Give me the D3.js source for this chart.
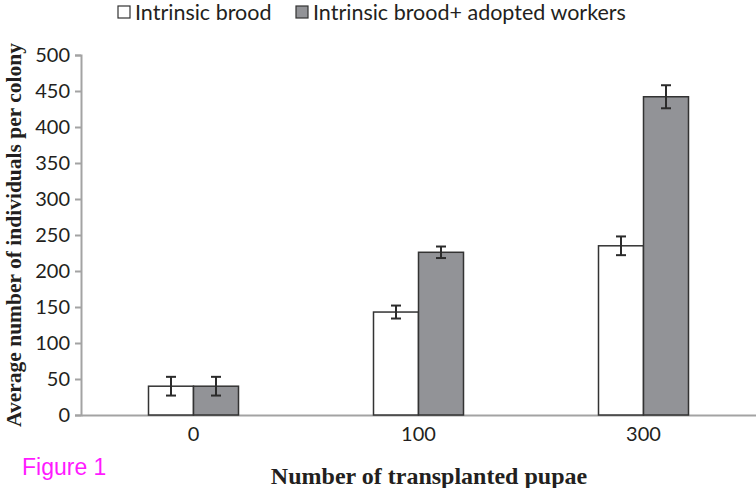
<!DOCTYPE html>
<html><head><meta charset="utf-8">
<script src="https://cdn.jsdelivr.net/npm/d3@7"></script>
<style>body{margin:0;background:#fff;} svg{display:block;}</style>
</head><body>
<svg id="chart" width="756" height="488"></svg>
<script>
const categories = ["0", "100", "300"];
const seriesNames = ["Intrinsic brood", "Intrinsic brood+ adopted workers"];
const intrinsic = [40, 143, 235];
const intrinsicErr = [13, 9, 13];
const adopted = [40, 226, 442];
const adoptedErr = [13, 8, 16];
const yTicks = [0, 50, 100, 150, 200, 250, 300, 350, 400, 450, 500];
const colors = ["#ffffff", "#929397"];

const svg = d3.select("#chart");
const x0 = 81, x1 = 756, yBase = 415, yTop = 55;
const x = d3.scaleBand().domain(categories).range([x0, x1]).paddingInner(0).paddingOuter(0);
const y = d3.scaleLinear().domain([0, 500]).range([yBase, yTop]);
const barW = 45;
const sans = "Lato, 'Open Sans', sans-serif";
const serif = "'Liberation Serif', 'DejaVu Serif', serif";

// y axis
const yAxis = svg.append("g").attr("transform", `translate(${x0},0)`)
  .call(d3.axisLeft(y).tickValues(yTicks).tickSize(6).tickPadding(5));
yAxis.select(".domain").attr("stroke", "#a3a3a3").attr("stroke-width", 2);
yAxis.selectAll(".tick line").attr("stroke", "#a3a3a3").attr("stroke-width", 2);
yAxis.selectAll(".tick text").attr("font-family", sans).attr("font-size", 20).attr("fill", "#231f20");

// x axis
const xAxis = svg.append("g").attr("transform", `translate(0,${yBase})`)
  .call(d3.axisBottom(x).tickSize(0).tickPadding(12));
xAxis.select(".domain").attr("stroke", "#a3a3a3").attr("stroke-width", 2);
xAxis.selectAll(".tick text").attr("font-family", sans).attr("font-size", 20).attr("fill", "#231f20");

const series = [
  {vals: intrinsic, errs: intrinsicErr, color: colors[0], off: -barW},
  {vals: adopted, errs: adoptedErr, color: colors[1], off: 0}
];
series.forEach(s => {
  const g = svg.append("g");
  categories.forEach((c, i) => {
    const cx = x(c) + x.bandwidth() / 2 + s.off;
    g.append("rect").attr("x", cx).attr("y", y(s.vals[i]))
      .attr("width", barW).attr("height", yBase - y(s.vals[i]))
      .attr("fill", s.color).attr("stroke", "#333").attr("stroke-width", 1.5);
  });
});
series.forEach(s => {
  const g = svg.append("g").attr("stroke", "#2b2b2b").attr("stroke-width", 2);
  categories.forEach((c, i) => {
    const mx = x(c) + x.bandwidth() / 2 + s.off + barW / 2;
    const hi = y(s.vals[i] + s.errs[i]), lo = y(s.vals[i] - s.errs[i]);
    g.append("line").attr("x1", mx).attr("x2", mx).attr("y1", hi).attr("y2", lo);
    g.append("line").attr("x1", mx - 5).attr("x2", mx + 5).attr("y1", hi).attr("y2", hi);
    g.append("line").attr("x1", mx - 5).attr("x2", mx + 5).attr("y1", lo).attr("y2", lo);
  });
});

// legend
const legX = [118, 296];
seriesNames.forEach((n, i) => {
  svg.append("rect").attr("x", legX[i]).attr("y", 6).attr("width", 12).attr("height", 12)
    .attr("fill", colors[i]).attr("stroke", "#333").attr("stroke-width", 1.2);
  svg.append("text").attr("x", legX[i] + 17).attr("y", 20)
    .attr("font-family", sans).attr("font-size", 21.5).attr("fill", "#231f20").text(n);
});

// axis titles
svg.append("text").attr("transform", "translate(21,235) rotate(-90)").attr("text-anchor", "middle")
  .attr("font-family", serif).attr("font-weight", "bold").attr("font-size", 21.5)
  .attr("fill", "#231f20").text("Average number of individuals per colony");
svg.append("text").attr("x", 429).attr("y", 484).attr("text-anchor", "middle")
  .attr("font-family", serif).attr("font-weight", "bold").attr("font-size", 24)
  .attr("fill", "#231f20").text("Number of transplanted pupae");
svg.append("text").attr("x", 22).attr("y", 475)
  .attr("font-family", "'Liberation Sans', Arial, sans-serif").attr("font-size", 23)
  .attr("fill", "#ff1aff").text("Figure 1");
</script>
</body></html>
